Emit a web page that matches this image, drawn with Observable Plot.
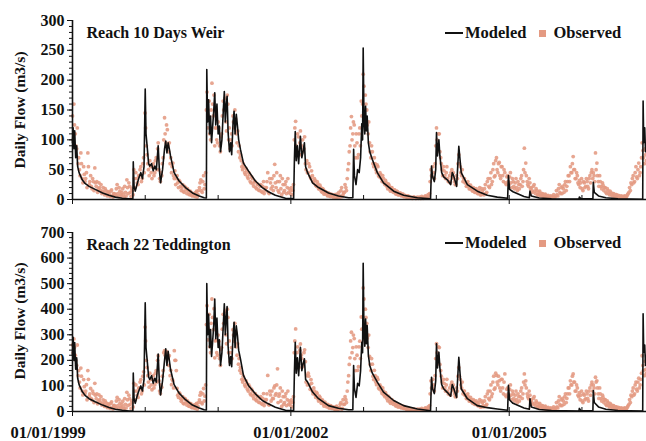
<!DOCTYPE html>
<html><head><meta charset="utf-8">
<script src="https://cdn.jsdelivr.net/npm/d3@7"></script>
<script src="https://cdn.jsdelivr.net/npm/@observablehq/plot@0.6"></script>
<style>
body{margin:0;background:#fff;}
#wrap{position:relative;width:646px;height:441px;font-family:"Liberation Serif",serif;font-weight:bold;color:#111;}
#wrap svg{display:block;}
.legend{position:absolute;left:445px;height:16px;display:flex;align-items:center;font-size:16.5px;white-space:nowrap;line-height:16px;}
.legend .ln{display:inline-block;width:18px;height:2.5px;background:#111;margin-right:2px;}
.legend .sq{display:inline-block;width:7px;height:7px;background:#e49a82;margin-left:13px;margin-right:7px;}
.ytitle{position:absolute;left:20px;transform:translate(-50%,-50%) rotate(-90deg);font-size:15.5px;white-space:nowrap;line-height:16px;}
</style></head><body><div id="wrap"></div>
<script>
// ---------- data ----------
const panelTitles = ["Reach 10 Days Weir", "Reach 22 Teddington"];
const yTitle = "Daily Flow (m3/s)";
const seriesNames = ["Modeled", "Observed"];
const xDomain = ["1999-01-01", "2006-11-21"];
const yearTicks = ["2000-01-01","2001-01-01","2002-01-01","2003-01-01","2004-01-01","2005-01-01","2006-01-01"];
const labelTicks = ["1999-01-01","2002-01-01","2005-01-01"];
const yTicksTop = [0,50,100,150,200,250,300];
const yTicksBottom = [0,100,200,300,400,500,600,700];
const yMinorStepTop = 10, yMinorStepBottom = 20;

// modeled flow, key readings
const modeledDates = [
 "1999-01-01","1999-01-04","1999-01-08","1999-01-12","1999-01-17","1999-01-22","1999-01-27","1999-02-03","1999-02-19","1999-03-05","1999-03-25","1999-04-25","1999-06-01","1999-07-03","1999-08-04","1999-09-08","1999-10-12","1999-10-31","1999-11-02","1999-11-06","1999-11-12","1999-11-23","1999-12-02","1999-12-10","1999-12-18","1999-12-26",
 "2000-01-01","2000-01-05","2000-01-12","2000-01-18","2000-01-24","2000-02-02","2000-02-10","2000-02-18","2000-02-26","2000-03-06","2000-03-12","2000-03-18","2000-03-28","2000-04-07","2000-04-13","2000-04-19","2000-04-25","2000-05-01","2000-05-07","2000-05-25","2000-06-19","2000-07-21","2000-08-25","2000-09-28","2000-10-23","2000-11-03","2000-11-05","2000-11-09","2000-11-14","2000-11-19","2000-11-24","2000-11-29","2000-12-04","2000-12-10","2000-12-15","2000-12-20","2000-12-26",
 "2001-01-01","2001-01-07","2001-01-13","2001-01-20","2001-01-27","2001-02-01","2001-02-06","2001-02-11","2001-02-15","2001-02-20","2001-02-27","2001-03-05","2001-03-10","2001-03-17","2001-03-22","2001-03-27","2001-04-02","2001-04-08","2001-04-14","2001-04-23","2001-05-08","2001-06-02","2001-07-07","2001-08-11","2001-09-10","2001-10-15","2001-12-05",
 "2002-01-15","2002-01-19","2002-01-23","2002-01-28","2002-02-03","2002-02-09","2002-02-18","2002-02-25","2002-03-03","2002-03-10","2002-03-16","2002-03-26","2002-04-20","2002-05-20","2002-07-09","2002-08-28","2002-10-18","2002-11-08","2002-11-12","2002-11-16","2002-11-24","2002-12-02","2002-12-10","2002-12-17","2002-12-23","2002-12-27","2002-12-30",
 "2003-01-03","2003-01-07","2003-01-11","2003-01-15","2003-01-19","2003-01-25","2003-02-01","2003-02-14","2003-03-11","2003-04-11","2003-06-01","2003-07-21","2003-09-28","2003-12-03","2003-12-08","2003-12-13","2003-12-22","2003-12-29",
 "2004-01-02","2004-01-07","2004-01-14","2004-01-19","2004-01-28","2004-02-07","2004-02-25","2004-03-13","2004-03-21","2004-03-28","2004-04-12","2004-04-23","2004-05-05","2004-06-05","2004-07-25","2004-09-13","2004-11-02","2004-12-24","2004-12-28",
 "2005-01-03","2005-01-20","2005-03-16","2005-04-12","2005-04-15","2005-04-22","2005-06-01","2005-08-01","2005-12-17","2005-12-19","2005-12-26",
 "2006-02-25","2006-02-27","2006-03-04","2006-03-25","2006-05-01","2006-07-01","2006-11-02","2006-11-04","2006-11-07","2006-11-12","2006-11-16","2006-11-21"
];
const modeledTop = [
 95,120,85,115,70,90,55,45,33,27,22,17,11,7,4,2,1,1,63,22,14,28,38,45,35,55,
 185,110,84,60,56,60,48,56,50,90,50,28,50,85,98,78,95,85,73,45,31,20,11,6,3,2.5,218,130,167,110,140,95,120,150,179,125,160,
 110,123,80,100,150,181,130,160,173,112,80,95,75,130,148,110,143,123,100,84,61,48,31,20,13,7,2,
 1.5,70,114,65,90,60,106,70,80,95,55,45,28,20,11,6,3,3,84,40,25,50,45,70,127,100,254,
 130,110,156,115,140,95,80,67,45,28,14,7,3,1,56,39,30,50,
 112,73,100,73,45,38,33,25,45,40,22,89,45,25,14,7,4,2,40,
 17,13,5,3,14,6,2.5,1.2,0.8,4,1.5,
 1,29,12,6,3,1.2,0.5,165,95,120,80,95
];
const modeledBottom = [
 220,290,200,270,165,210,130,105,78,63,50,38,25,16,9,5,2,2,150,50,32,65,85,100,80,125,
 425,250,190,135,125,140,110,130,115,225,115,65,120,200,245,180,235,200,165,105,72,46,25,14,7,6,500,300,380,250,320,215,270,340,440,285,365,
 250,280,180,230,340,421,300,370,410,255,180,215,175,300,349,250,335,297,240,206,141,102,69,43,30,17,5,
 4,160,271,150,210,140,251,160,185,206,125,115,76,50,23,13,7,7,180,90,55,110,100,160,271,230,580,
 300,255,362,265,336,220,180,150,115,76,43,23,10,3,134,90,70,120,
 265,170,232,170,105,89,75,60,105,92,55,212,89,50,23,15,10,5,102,
 45,32,14,9,50,18,8,4,2,12,4,
 3,82,35,18,9,4,2,382,232,260,180,220
];

// observed flow: one reading per week from obsStart, and a second reading
// each week obsMidOffsetDays later
const obsStart = "1999-01-01", obsStepDays = 7, obsMidOffsetDays = 3;
const observedTop = [
 // 1999
 140,160,110,85,60, 50,78,35,55, 30,45,78,25, 40,18,30,53, 22,12,28,15,10, 20,8,15,6, 12,5,16,4,10, 8,25,5,14, 6,18,4,12, 33,10,22,5,15, 50,20,35,25, 40,55,35,70,
 // 2000
 145,90,60,40,55, 35,60,45,70, 85,50,30,40, 70,137,95,117, 80,60,45,61,35, 25,40,20,30, 15,25,12,20,10, 15,8,12,6, 10,5,14,8, 20,33,12,40,25, 150,120,165,100, 195,140,90,120,
 // 2001
 95,120,80,110,165, 150,130,175,100, 85,110,140,120, 135,95,80,70, 65,50,55,42,48, 35,42,28,35, 22,30,18,25,15, 25,12,30,15, 20,45,10,28, 35,15,59,20,30, 12,40,8,25, 15,30,20,12,
 // 2002
 10,20,15,100,131, 80,105,95,75, 100,85,60,65, 45,55,35,40, 28,32,22,26,18, 20,12,16,10, 12,6,10,5,8, 4,8,3,6, 12,4,20,8, 12,20,35,60,90, 139,110,125,70, 95,75,120,165,
 // 2003
 160,190,175,150,110, 95,70,80,55, 60,45,55,38, 42,30,35,25, 28,18,24,14,20, 12,16,9,13, 8,11,6,9,5, 6,3,5,3, 3,2,4,2, 3,2,4,2,3, 4,6,3,8, 10,50,38,45,
 // 2004
 60,120,85,110,70, 50,55,40,45, 35,30,28,50, 45,30,25,35, 75,55,40,30,35, 28,22,25,18, 20,14,18,12,15, 10,20,8,15, 8,25,12,35, 20,45,30,60,40, 70,45,62,35, 55,30,45,25,
 // 2005
 40,25,45,20,30, 18,35,15,25, 25,40,30,86, 61,30,22,28, 20,12,25,10,15, 8,14,6,10, 5,9,4,7,3, 6,3,8,4, 15,6,25,10, 10,18,25,15,30, 40,55,45,72, 50,35,40,25,
 // 2006
 20,35,15,28,22, 30,18,40,45, 35,40,78,61, 30,40,22,28, 15,20,10,15,8, 12,6,10,5, 8,4,6,3,5, 3,6,3,8, 12,15,25,40, 30,55,35,61,45, 70,82,60,75
];
const observedTopMid = [
 // 1999
 100,125,90,120,70, 40,60,28,42, 35,20,55,30, 22,35,15,28, 30,18,20,25,14, 12,18,9,13, 8,14,6,10,7, 18,10,20,8, 12,8,22,6, 20,28,12,18,8, 35,45,28,40, 50,30,60,45,
 // 2000
 120,75,50,65,45, 55,40,65,50, 95,35,45,60, 100,110,125,90, 95,70,55,40,48, 35,28,32,22, 20,14,22,16,18, 9,14,7,10, 6,12,4,15, 28,15,30,18,45, 180,140,110,150, 160,175,120,100,
 // 2001
 130,90,105,140,150, 170,115,160,120, 100,90,130,150, 110,115,90,75, 55,60,45,52,38, 45,30,38,26, 30,20,26,16,22, 14,22,10,20, 30,12,35,18, 22,40,28,45,15, 30,18,35,12, 25,10,35,18,
 // 2002
 15,8,25,120,90, 110,75,115,90, 80,105,50,45, 60,38,48,30, 35,24,30,18,24, 14,18,9,13, 8,11,6,9,5, 7,4,9,3, 6,15,5,12, 25,15,50,80,120, 100,130,90,110, 70,110,90,140,
 // 2003
 210,140,160,125,130, 80,90,60,70, 50,58,40,45, 35,40,28,32, 22,26,17,20,15, 16,11,14,8, 10,7,9,5,7, 4,6,3,4, 2,4,3,2, 4,3,2,5,2, 3,5,4,6, 30,40,55,35,
 // 2004
 90,100,110,80,60, 40,48,35,55, 30,40,45,38, 35,25,40,60, 60,45,50,35,28, 22,30,18,24, 16,20,12,18,10, 15,8,18,10, 18,10,30,22, 35,25,50,38,65, 50,60,40,55, 40,50,28,38,
 // 2005
 30,38,28,35,22, 28,20,30,18, 35,22,50,45, 40,25,35,18, 15,22,14,18,8, 12,7,10,5, 8,4,6,3,5, 3,5,4,6, 8,18,12,20, 22,12,30,22,40, 30,45,60,50, 35,45,28,32,
 // 2006
 28,18,30,20,35, 22,35,28,50, 45,30,50,40, 22,30,18,24, 20,12,18,10,14, 8,10,6,8, 5,7,4,6,3, 5,4,6,10, 20,28,35,28, 45,38,50,40,55, 95,70,85,65
];
const observedBottom = [
 // 1999
 260,284,220,180,140, 115,170,80,125, 70,105,160,60, 90,45,70,110, 50,30,65,35,25, 45,20,35,15, 28,12,38,10,24, 18,55,12,32, 14,40,10,28, 75,24,50,12,35, 110,45,80,55, 90,125,80,155,
 // 2000
 330,200,140,95,125, 85,140,105,160, 200,120,70,95, 160,238,210,230, 180,140,105,120,238, 200,90,55,70, 40,58,30,48,25, 35,20,30,15, 25,12,32,20, 45,75,30,90,60, 340,280,380,230, 440,320,210,280,
 // 2001
 220,275,180,250,380, 345,300,400,230, 195,250,320,275, 310,220,185,160, 150,115,125,97,110, 80,97,65,80, 50,70,42,58,35, 58,28,70,35, 46,141,25,65, 80,50,100,70,167, 60,92,20,58, 35,70,46,28,
 // 2002
 25,45,35,230,323, 230,185,240,220, 175,230,195,140, 150,105,125,80, 92,65,75,50,60, 42,46,28,37, 23,28,14,23,12, 18,9,18,7, 14,28,9,46, 28,46,80,140,210, 310,250,285,160, 220,175,275,370,
 // 2003
 370,440,400,345,250, 215,160,185,125, 140,105,125,88, 97,70,80,58, 65,42,55,32,46, 28,37,21,30, 18,25,14,21,12, 14,7,12,7, 7,5,9,5, 7,5,9,5,7, 9,14,7,18, 23,120,90,104,
 // 2004
 140,265,195,250,160, 115,126,92,104, 80,69,64,115, 104,69,58,80, 172,126,92,69,80, 64,50,57,41, 46,32,41,28,35, 23,46,18,35, 18,58,28,80, 46,104,69,138,92, 141,104,120,80, 126,69,147,58,
 // 2005
 92,58,104,46,69, 41,80,35,58, 58,92,69,147, 120,69,50,64, 46,28,58,23,35, 18,32,14,23, 12,21,9,16,7, 14,7,18,9, 35,14,58,23, 23,41,58,35,69, 92,120,104,147, 115,80,92,58,
 // 2006
 46,80,35,64,50, 69,41,92,104, 80,92,134,120, 69,92,50,64, 35,46,23,35,18, 28,14,23,12, 18,9,14,7,12, 7,14,7,18, 28,35,58,92, 69,115,80,130,104, 150,180,140,165
];
const observedBottomMid = [
 // 1999
 230,250,200,260,160, 92,138,65,97, 80,46,126,69, 50,80,35,64, 69,41,46,58,32, 28,41,21,30, 18,32,14,23,16, 41,23,46,18, 28,18,50,14, 46,64,28,41,18, 80,104,64,92, 115,69,138,104,
 // 2000
 276,172,115,150,104, 126,92,150,115, 218,80,104,138, 230,220,235,207, 218,161,126,92,200, 160,64,74,51, 46,32,51,37,41, 21,32,16,23, 14,28,9,35, 64,35,69,41,104, 414,322,253,345, 368,402,276,230,
 // 2001
 299,207,242,322,345, 391,265,368,276, 230,207,299,345, 253,265,207,172, 126,138,104,120,87, 104,69,87,60, 69,46,60,37,51, 32,51,23,46, 69,28,80,41, 51,92,64,104,35, 69,41,80,28, 58,23,80,41,
 // 2002
 35,18,58,276,207, 253,172,264,207, 184,241,115,104, 138,87,110,69, 80,55,69,41,55, 32,41,21,30, 18,25,14,21,12, 16,9,21,7, 14,35,12,28, 58,35,115,184,276, 230,299,207,253, 161,253,207,322,
 // 2003
 483,322,368,287,299, 184,207,138,161, 115,133,92,104, 80,92,64,74, 51,60,39,46,35, 37,25,32,18, 23,16,21,12,16, 9,14,7,9, 5,9,7,5, 9,7,5,12,5, 7,12,9,14, 69,92,126,80,
 // 2004
 207,230,253,184,138, 92,110,80,126, 69,92,104,87, 80,58,92,138, 138,104,115,80,64, 51,69,41,55, 37,46,28,41,23, 35,18,41,23, 41,23,69,51, 80,58,115,87,150, 115,138,92,126, 92,115,64,87,
 // 2005
 69,87,64,80,51, 64,46,69,41, 80,51,115,104, 92,58,80,41, 35,51,32,41,18, 28,16,23,12, 18,9,14,7,12, 7,12,9,14, 18,41,28,46, 51,28,69,51,92, 69,104,138,115, 80,104,64,74,
 // 2006
 64,41,69,46,80, 51,80,64,115, 104,69,115,92, 51,69,41,55, 46,28,41,23,32, 18,23,14,18, 12,16,9,14,7, 12,9,14,23, 46,64,80,64, 104,87,115,92,126, 218,161,196,150
];

// ---------- drawing ----------
const parse = d3.utcParse("%Y-%m-%d");
const fmt = d3.utcFormat("%m/%d/%Y");
const xStart = parse(xDomain[0]), xEnd = parse(xDomain[1]);
const obs0 = parse(obsStart);
const INK = "#111", OBS = "#e49a82";
const FONT = "'Liberation Serif', serif";

function readings(values, offsetDays) {
  return values.map((v, i) => ({date: d3.utcDay.offset(obs0, i * obsStepDays + offsetDays), value: v}))
               .filter(d => d.date <= xEnd);
}

function panel({modeled, observed, observedMid, yTicks, minorStep, title, height, marginTop, marginBottom, xLabels}) {
  const yMax = yTicks[yTicks.length - 1];
  const minor = d3.range(0, yMax + 1e-9, minorStep);
  const modelData = modeledDates.map((d, i) => ({date: parse(d), value: modeled[i]}));
  const obsData = readings(observed, 0).concat(readings(observedMid, obsMidOffsetDays));
  const years = yearTicks.map(parse);
  const majors = labelTicks.map(parse);
  const marks = [
    Plot.dot(obsData, {x: "date", y: "value", r: 1.9, fill: OBS, stroke: "none", fillOpacity: 0.88}),
    Plot.line(modelData, {x: "date", y: "value", stroke: INK, strokeWidth: 1.6}),
    Plot.ruleY([0], {stroke: INK, strokeWidth: 1.6}),
    Plot.ruleX([xStart], {stroke: INK, strokeWidth: 1.6}),
    Plot.axisY({ticks: minor, tickSize: 3, tickFormat: () => "", label: null}),
    Plot.axisY({ticks: yTicks, tickSize: 5, tickPadding: 3, label: null, fontSize: 16, fontWeight: "bold"}),
    Plot.axisX({ticks: years, tickSize: -4, tickFormat: () => "", label: null}),
    Plot.axisX({ticks: majors, tickSize: 5, tickFormat: () => "", label: null}),
    Plot.text([title], {frameAnchor: "top-left", dx: 14, dy: 12, textAnchor: "start", lineAnchor: "middle", fontSize: 16, fontWeight: "bold", fill: INK})
  ];
  if (xLabels) {
    marks.push(Plot.text(majors.slice(0, 1), {x: d => d, frameAnchor: "bottom", dy: 21, dx: -62, textAnchor: "start", lineAnchor: "middle", text: d => fmt(d), fontSize: 16.5, fontWeight: "bold", fill: INK}));
    marks.push(Plot.text(majors.slice(1), {x: d => d, frameAnchor: "bottom", dy: 21, lineAnchor: "middle", text: d => fmt(d), fontSize: 16.5, fontWeight: "bold", fill: INK}));
  }
  return Plot.plot({
    width: 646, height, marginLeft: 72, marginRight: 0, marginTop, marginBottom,
    style: {fontFamily: FONT, fontWeight: "bold", fontSize: "16px", color: INK, background: "#fff", overflow: "visible"},
    x: {type: "utc", domain: [xStart, xEnd]},
    y: {domain: [0, yMax]},
    marks
  });
}

const wrap = document.getElementById("wrap");
wrap.appendChild(panel({modeled: modeledTop, observed: observedTop, observedMid: observedTopMid, yTicks: yTicksTop, minorStep: yMinorStepTop,
  title: panelTitles[0], height: 210, marginTop: 20, marginBottom: 11, xLabels: false}));
wrap.appendChild(panel({modeled: modeledBottom, observed: observedBottom, observedMid: observedBottomMid, yTicks: yTicksBottom, minorStep: yMinorStepBottom,
  title: panelTitles[1], height: 231, marginTop: 22, marginBottom: 30, xLabels: true}));

function legend(top) {
  const el = document.createElement("div");
  el.className = "legend";
  el.style.top = top + "px";
  el.innerHTML = `<span class="ln"></span><span>${seriesNames[0]}</span><span class="sq"></span><span>${seriesNames[1]}</span>`;
  wrap.appendChild(el);
}
function axisTitle(centerY) {
  const el = document.createElement("div");
  el.className = "ytitle";
  el.style.top = centerY + "px";
  el.textContent = yTitle;
  wrap.appendChild(el);
}
legend(25);
legend(235);
axisTitle(110);
axisTitle(321);
</script>
</body></html>
